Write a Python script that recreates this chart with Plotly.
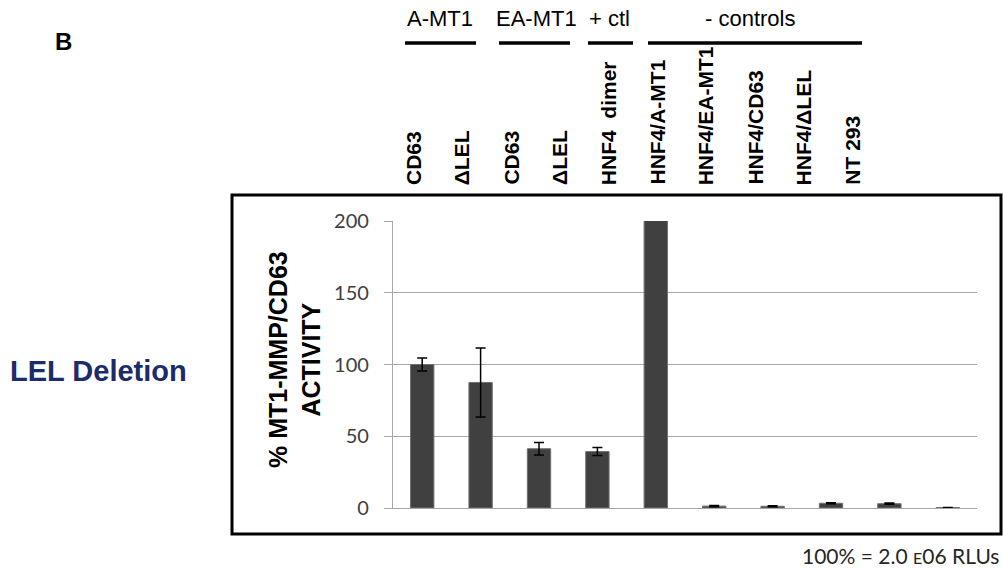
import plotly.graph_objects as go

# ---------------- data ----------------
categories = ["CD63", "ΔLEL", "CD63", "ΔLEL", "HNF4  dimer",
              "HNF4/A-MT1", "HNF4/EA-MT1", "HNF4/CD63", "HNF4/ΔLEL", "NT 293"]
activity = [100, 87.5, 41.3, 39.3, 201, 1.3, 1.2, 3.3, 3.0, 0.3]
errors = [4.5, 24, 4.3, 2.8, 0, 0.4, 0.4, 0.3, 0.4, 0.1]
group_labels = ["A-MT1", "EA-MT1", "+ ctl", "- controls"]
y_ticks = [0, 50, 100, 150, 200]

# ---------------- layout geometry (pixels) ----------------
FW, FH = 1003, 569
L, R, T, B = 393, 977, 221, 508
W, H = R - L, B - T


def px(x):
    return (x - L) / W


def py(y):
    return (B - y) / H


SANS = "Liberation Sans, Arial, sans-serif"
NUMF = "Lato, Liberation Sans, sans-serif"
GRAY = "#A6A6A6"

fig = go.Figure()
fig.add_trace(go.Bar(
    x=list(range(len(categories))),
    y=activity,
    width=0.4,
    marker=dict(color="#404040", line=dict(color="#707070", width=1)),
    error_y=dict(type="data", array=errors, color="black", thickness=1.5, width=5),
    cliponaxis=False,
    showlegend=False,
))

annotations = []
# category labels (rotated) above the plot
lab_x0, lab_step, lab_bottom = 413, 48.8, 187
for i, c in enumerate(categories):
    annotations.append(dict(
        text="<b>%s</b>" % c, xref="paper", yref="paper",
        x=px(lab_x0 + i * lab_step), y=py(lab_bottom),
        xanchor="center", yanchor="bottom", textangle=-90, showarrow=False,
        font=dict(family=SANS, size=21, color="black")))

# group labels + underlines
group_text_x = [440, 536, 609, 750]
group_line = [(405, 476), (499, 570), (588, 633), (648, 862)]
shapes = []
for g, tx, (a, b) in zip(group_labels, group_text_x, group_line):
    annotations.append(dict(
        text=g, xref="paper", yref="paper", x=px(tx), y=py(18),
        xanchor="center", yanchor="middle", showarrow=False,
        font=dict(family=SANS, size=22, color="black")))
    shapes.append(dict(type="line", xref="paper", yref="paper",
                       x0=px(a), x1=px(b), y0=py(43), y1=py(43),
                       line=dict(color="black", width=3.5)))

# outer frame
shapes.append(dict(type="rect", xref="paper", yref="paper",
                   x0=px(232), x1=px(1001), y0=py(195), y1=py(534),
                   line=dict(color="black", width=3), fillcolor="rgba(0,0,0,0)"))

# y-axis title
annotations.append(dict(
    text="<b>% MT1-MMP/CD63<br>ACTIVITY</b>", xref="paper", yref="paper",
    x=px(294), y=py(360), xanchor="center", yanchor="middle", textangle=-90,
    showarrow=False, font=dict(family=SANS, size=25, color="black")))

# panel letter
annotations.append(dict(
    text="<b>B</b>", xref="paper", yref="paper", x=px(63), y=py(41),
    xanchor="center", yanchor="middle", showarrow=False,
    font=dict(family=SANS, size=24, color="black")))

# side label
annotations.append(dict(
    text="<b>LEL Deletion</b>", xref="paper", yref="paper", x=px(8), y=py(371),
    xanchor="left", yanchor="middle", showarrow=False,
    font=dict(family=SANS, size=29, color="#1B2B6B")))

# footnote
annotations.append(dict(
    text="100% = 2.0 <span style='font-size:16px'>E</span>06 RLUs",
    xref="paper", yref="paper", x=px(1001), y=py(555),
    xanchor="right", yanchor="middle", showarrow=False,
    font=dict(family=NUMF, size=21, color="#262626")))

fig.update_layout(
    width=FW, height=FH,
    margin=dict(l=L, r=FW - R, t=T, b=FH - B, pad=0),
    paper_bgcolor="white", plot_bgcolor="white",
    bargap=0.6,
    xaxis=dict(range=[-0.5, len(categories) - 0.5], showticklabels=False,
               ticks="", showgrid=False, zeroline=False,
               showline=True, linecolor=GRAY, linewidth=1.3, fixedrange=True),
    yaxis=dict(range=[0, 200], tickvals=y_ticks, ticktext=[str(v) for v in y_ticks],
               showgrid=True, gridcolor=GRAY, gridwidth=1.3, zeroline=False,
               showline=True, linecolor=GRAY, linewidth=1.3,
               ticks="outside", ticklen=8, tickcolor=GRAY, tickwidth=1.3,
               ticklabelstandoff=11,
               tickfont=dict(family=NUMF, size=20, color="#404040")),
    annotations=annotations,
    shapes=shapes,
)

fig.write_html("out.html")
